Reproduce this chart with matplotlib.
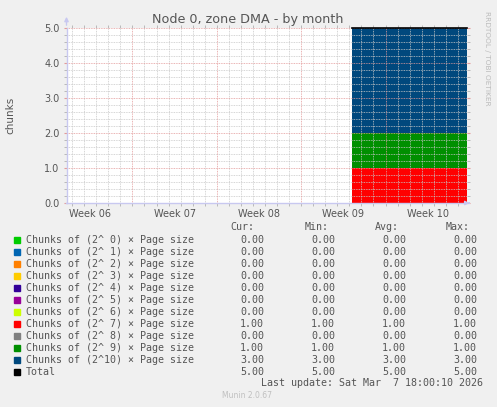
import numpy as np
import matplotlib.pyplot as plt

W, H = 497, 407

# chart data
week_labels = ["Week 06", "Week 07", "Week 08", "Week 09", "Week 10"]
week_centers = [-3.5, 3.5, 10.5, 17.5, 24.5]   # days from start of week 07
sample_days = [18.22, 27.72]                    # when the samples exist

series_names = ["Chunks of (2^ 0) × Page size", "Chunks of (2^ 1) × Page size",
                "Chunks of (2^ 2) × Page size", "Chunks of (2^ 3) × Page size",
                "Chunks of (2^ 4) × Page size", "Chunks of (2^ 5) × Page size",
                "Chunks of (2^ 6) × Page size", "Chunks of (2^ 7) × Page size",
                "Chunks of (2^ 8) × Page size", "Chunks of (2^ 9) × Page size",
                "Chunks of (2^10) × Page size"]
series_colors = ["#00CC00", "#0066B3", "#FF8000", "#FFCC00", "#330099", "#990099",
                 "#CCFF00", "#FF0000", "#808080", "#008F00", "#00487D"]
series_values = [[0, 0], [0, 0], [0, 0], [0, 0], [0, 0], [0, 0],
                 [0, 0], [1, 1], [0, 0], [1, 1], [3, 3]]
cur_vals = [0, 0, 0, 0, 0, 0, 0, 1, 0, 1, 3]
min_vals = [0, 0, 0, 0, 0, 0, 0, 1, 0, 1, 3]
avg_vals = [0, 0, 0, 0, 0, 0, 0, 1, 0, 1, 3]
max_vals = [0, 0, 0, 0, 0, 0, 0, 1, 0, 1, 3]
total_vals = [5, 5]
total_stats = [5, 5, 5, 5]

x_left, x_right = -5.47, 27.72
y_max = 5.0

txt = "#555555"
fig = plt.figure(figsize=(W / 100, H / 100), dpi=100)
fig.patch.set_facecolor("#F0F0F0")


def px(x, y):
    return x / W, 1 - y / H


ax = fig.add_axes([66.5 / W, 1 - 203 / H, 400 / W, 175 / H])
ax.set_facecolor("white")
ax.set_xlim(x_left, x_right)
ax.set_ylim(0, y_max)

# stacked areas
base = np.zeros(len(sample_days))
for vals, col in zip(series_values, series_colors):
    top = base + np.array(vals)
    if np.any(top > base):
        ax.fill_between(sample_days, base, top, color=col, linewidth=0, zorder=1)
    base = top
ax.plot(sample_days, total_vals, color="black", lw=1.2, zorder=4, clip_on=False)

# grid on top of data, rrdtool style
dot = (0, (1, 1))
minor_c = "#c8c8c8"
major_c = "#e39a9a"
for d in np.arange(-5, 28):
    if d % 7 == 0:
        continue
    ax.axvline(d, color=minor_c, lw=0.6, ls=dot, zorder=2)
for yv in np.arange(0.2, 5.0, 0.2):
    if abs(yv - round(yv)) < 1e-6:
        continue
    ax.axhline(yv, color=minor_c, lw=0.6, ls=dot, zorder=2)
for d in [0, 7, 14, 21]:
    ax.axvline(d, color=major_c, lw=0.6, ls=dot, zorder=3)
for yv in [1, 2, 3, 4, 5]:
    ax.axhline(yv, color=major_c, lw=0.6, ls=dot, zorder=3)

for s in ["top", "right"]:
    ax.spines[s].set_visible(False)
for s in ["left", "bottom"]:
    ax.spines[s].set_color("#c8c8f0")
    ax.spines[s].set_linewidth(1)
    ax.spines[s].set_zorder(5)

ax.set_xticks(week_centers)
ax.set_xticklabels(week_labels, fontsize=7, color=txt)
ax.set_xticks(np.arange(-5, 28), minor=True)
ax.tick_params(axis="x", which="major", length=0, pad=4)
ax.tick_params(axis="x", which="minor", length=2, color="#b0b0b0", width=0.6,
               top=True)
ax.set_yticks([0, 1, 2, 3, 4, 5])
ax.set_yticklabels(["0.0", "1.0", "2.0", "3.0", "4.0", "5.0"], fontsize=7, color=txt)
ax.set_yticks(np.arange(0, 5.01, 0.2), minor=True)
ax.tick_params(axis="y", which="major", length=2, color="#e39a9a", pad=3, right=True)
ax.tick_params(axis="y", which="minor", length=2, color="#b0b0b0", width=0.6,
               right=True)

# axis arrows
ax.annotate("", xy=(x_left, 5.4), xytext=(x_left, 5.0), annotation_clip=False,
            arrowprops=dict(arrowstyle="-|>", color="#c8c8f0", lw=1, mutation_scale=6))
ax.annotate("", xy=(28.2, 0), xytext=(x_right, 0), annotation_clip=False,
            arrowprops=dict(arrowstyle="-|>", color="#c8c8f0", lw=1, mutation_scale=6))

fig.text(*px(248, 19), "Node 0, zone DMA - by month", ha="center", va="center",
         fontsize=9.2, color=txt)
fig.text(*px(10, 115), "chunks", rotation=90, ha="center", va="center",
         fontsize=7.5, color=txt)
fig.text(*px(487, 58), "RRDTOOL / TOBI OETIKER", rotation=270, ha="center",
         va="center", fontsize=5.3, color="#bbbbbb")

# legend
mono = "DejaVu Sans Mono"
fs = 7.2
fig.text(*px(254, 227), "Cur:", ha="right", va="center", family=mono, fontsize=fs, color=txt)
fig.text(*px(329, 227), "Min:", ha="right", va="center", family=mono, fontsize=fs, color=txt)
fig.text(*px(399, 227), "Avg:", ha="right", va="center", family=mono, fontsize=fs, color=txt)
fig.text(*px(470, 227), "Max:", ha="right", va="center", family=mono, fontsize=fs, color=txt)

rows = list(zip(series_names, series_colors, cur_vals, min_vals, avg_vals, max_vals))
rows.append(("Total", "#000000") + tuple(total_stats))
for i, (name, col, c, mn, av, mx) in enumerate(rows):
    yy = 239.7 + i * 12
    fig.patches.append(plt.Rectangle(px(14, yy + 3), 6 / W, 6 / H, color=col,
                                     transform=fig.transFigure, figure=fig))
    fig.text(*px(26, yy), name, ha="left", va="center", family=mono, fontsize=fs, color=txt)
    for v, xr in zip([c, mn, av, mx], [264, 335, 406, 477]):
        fig.text(*px(xr, yy), "%.2f" % v, ha="right", va="center", family=mono,
                 fontsize=fs, color=txt)

fig.text(*px(482.7, 383.3), "Last update: Sat Mar  7 18:00:10 2026", ha="right",
         va="center", family=mono, fontsize=fs, color=txt)
fig.text(*px(247, 396), "Munin 2.0.67", ha="center", va="center", fontsize=5.5,
         color="#c0c0c0")

fig.savefig("out.png", dpi=100, facecolor=fig.get_facecolor())
